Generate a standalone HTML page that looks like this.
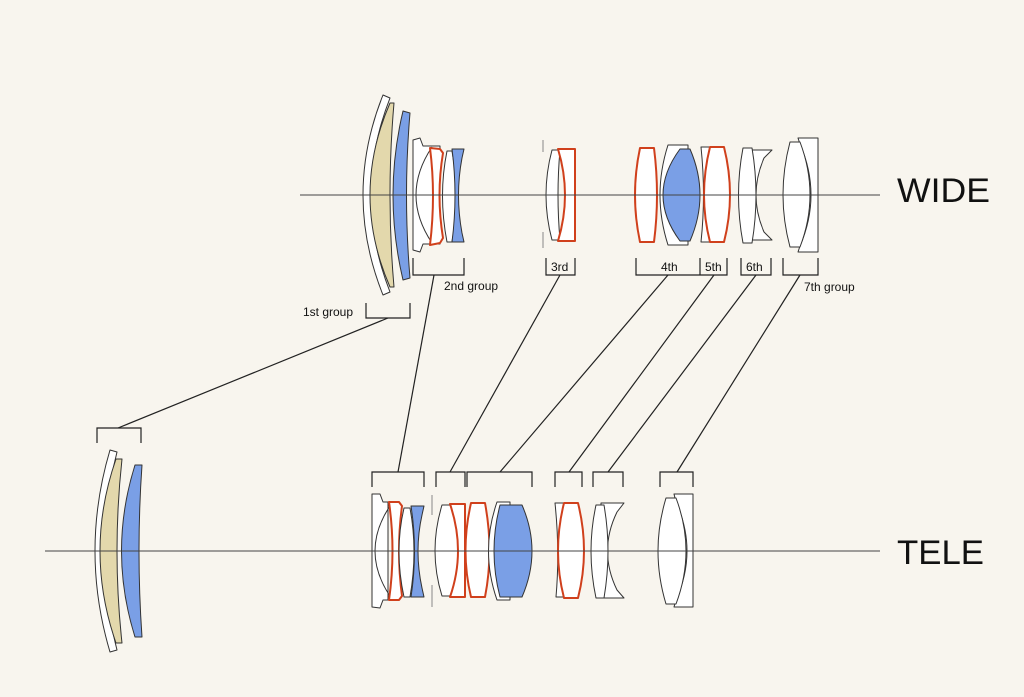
<!DOCTYPE html>
<html><head><meta charset="utf-8"><style>
html,body{margin:0;padding:0;background:#f8f5ee;}
svg{display:block}
text{font-family:"Liberation Sans",sans-serif;fill:#111}
</style></head><body>
<svg width="1024" height="697" viewBox="0 0 1024 697" xmlns="http://www.w3.org/2000/svg">
<rect width="1024" height="697" fill="#f8f5ee"/>
<g stroke="#333" stroke-width="1" fill="#fff" stroke-linejoin="round">
<!-- WIDE 1st -->
<path d="M383 95 Q343 195 383 295 L390 292 Q352 195 390 98 Z"/>
<path d="M390 103 Q350 195 390 287 L394 287 Q386 195 394 103 Z" fill="#e3d8ac"/>
<path d="M403 111 Q383 195 403 280 L410 278 Q403 195 410 113 Z" fill="#7a9fe6"/>
<!-- WIDE 2nd -->
<path d="M413 140 L420 138 L423 146 L440 146 L440 244 L423 244 L420 252 L413 250 Z"/>
<path d="M432 147 Q400 195 432 243" fill="none"/>
<path d="M430 148 L440 149 L443 153 Q436 195 443 238 L440 243 L430 245 Q436 195 430 148 Z" stroke="#d0401c" stroke-width="2"/>
<path d="M447 151 L452 151 Q460 195 452 242 L447 242 Q438 195 447 151 Z"/>
<path d="M452 149 L464 149 L462 158 Q455 195 462 233 L464 242 L452 242 Q458 195 452 149 Z" fill="#7a9fe6"/>
<!-- WIDE 3rd -->
<path d="M543 140 L543 152 M543 232 L543 248" fill="none" stroke="#888"/>
<path d="M552 150 L560 150 Q556 195 560 240 L552 240 Q540 195 552 150 Z"/>
<path d="M558 149 L575 149 L575 241 L558 241 Q572 195 558 149 Z" stroke="#d0401c" stroke-width="2"/>
<!-- WIDE 4th -->
<path d="M640 148 L654 148 Q660 195 654 242 L640 242 Q630 195 640 148 Z" stroke="#d0401c" stroke-width="2"/>
<path d="M668 145 L688 145 L688 150 Q660 195 688 240 L688 245 L668 245 Q652 195 668 145 Z"/>
<path d="M680 149 L690 149 Q710 195 690 241 L680 241 Q646 195 680 149 Z" fill="#7a9fe6"/>
<!-- WIDE 5th -->
<path d="M701 147 L710 147 Q704 195 710 242 L701 242 Q706 195 701 147 Z"/>
<path d="M710 147 L724 147 Q736 195 724 242 L710 242 Q698 195 710 147 Z" stroke="#d0401c" stroke-width="2"/>
<!-- WIDE 6th -->
<path d="M748 150 L772 150 L764 158 Q748 195 764 232 L772 240 L748 240 Z"/>
<path d="M743 148 L752 148 Q760 195 752 243 L743 243 Q734 195 743 148 Z"/>
<!-- WIDE 7th -->
<path d="M798 138 L818 138 L818 252 L798 252 L800 246 Q822 195 800 144 Z"/>
<path d="M790 142 L800 142 Q820 195 800 247 L790 247 Q776 195 790 142 Z"/>

<!-- TELE 1st -->
<path d="M110 450 Q80 551 110 652 L117 650 Q92 551 117 452 Z"/>
<path d="M116 459 Q84 551 116 643 L122 643 Q112 551 122 459 Z" fill="#e3d8ac"/>
<path d="M135 465 Q108 551 135 637 L142 637 Q136 551 142 465 Z" fill="#7a9fe6"/>
<!-- TELE 2nd -->
<path d="M372 494 L380 494 L383 502 L388 502 L388 600 L383 600 L380 608 L372 607 Z"/>
<path d="M392 503 Q358 551 392 599" fill="none"/>
<path d="M389 502 L399 502 L402 506 Q396 551 402 596 L399 600 L389 600 Q396 551 389 502 Z" stroke="#d0401c" stroke-width="2"/>
<path d="M404 508 L410 508 Q418 551 410 597 L404 597 Q394 551 404 508 Z"/>
<path d="M411 506 L424 506 L422 515 Q414 551 422 588 L424 597 L411 597 Q418 551 411 506 Z" fill="#7a9fe6"/>
<path d="M432 495 L432 515 M432 585 L432 607" fill="none" stroke="#888"/>
<!-- TELE 3rd -->
<path d="M442 505 L452 505 Q464 551 452 596 L442 596 Q428 551 442 505 Z"/>
<path d="M450 504 L465 504 L465 597 L450 597 Q466 551 450 504 Z" stroke="#d0401c" stroke-width="2"/>
<!-- TELE 4th -->
<path d="M471 503 L485 503 Q494 551 485 597 L471 597 Q460 551 471 503 Z" stroke="#d0401c" stroke-width="2"/>
<path d="M497 502 L510 502 L510 600 L497 600 Q480 551 497 502 Z"/>
<path d="M500 505 L522 505 Q542 551 522 597 L500 597 Q488 551 500 505 Z" fill="#7a9fe6"/>
<!-- TELE 5th -->
<path d="M555 503 L565 503 Q560 551 566 597 L556 597 Q560 551 555 503 Z"/>
<path d="M564 503 L578 503 Q590 551 578 598 L564 598 Q552 551 564 503 Z" stroke="#d0401c" stroke-width="2"/>
<!-- TELE 6th -->
<path d="M601 503 L624 503 L617 512 Q598 551 617 590 L624 598 L601 598 Z"/>
<path d="M596 505 L604 505 Q612 551 604 598 L596 598 Q586 551 596 505 Z"/>
<!-- TELE 7th -->
<path d="M674 494 L693 494 L693 607 L674 607 L676 600 Q698 551 676 502 Z"/>
<path d="M666 498 L676 498 Q696 551 676 604 L666 604 Q650 551 666 498 Z"/>
</g>

<g stroke="#222" stroke-width="1.2" fill="none">
<line x1="300" y1="195" x2="880" y2="195" stroke="#444" stroke-width="1"/>
<line x1="45" y1="551" x2="880" y2="551" stroke="#444" stroke-width="1"/>
<!-- wide brackets -->
<path d="M366 303 V318 H410 V303"/>
<path d="M413 258 V275 H464 V258"/>
<path d="M546 258 V275 H575 V258"/>
<path d="M636 258 V275 H727 V258 M700 258 V275"/>
<path d="M741 258 V275 H771 V258"/>
<path d="M783 258 V275 H818 V258"/>
<!-- tele brackets -->
<path d="M97 443 V428 H141 V443"/>
<path d="M372 487 V472 H424 V487"/>
<path d="M436 487 V472 H465 V487"/>
<path d="M467 487 V472 H532 V487"/>
<path d="M555 487 V472 H582 V487"/>
<path d="M593 487 V472 H623 V487"/>
<path d="M660 487 V472 H693 V487"/>
<!-- connectors -->
<line x1="388" y1="318" x2="118" y2="428"/>
<line x1="434" y1="275" x2="398" y2="472"/>
<line x1="560" y1="275" x2="450" y2="472"/>
<line x1="668" y1="275" x2="500" y2="472"/>
<line x1="714" y1="275" x2="569" y2="472"/>
<line x1="756" y1="275" x2="608" y2="472"/>
<line x1="800" y1="275" x2="677" y2="472"/>
</g>

<g font-size="12">
<text x="303" y="316">1st group</text>
<text x="444" y="290">2nd group</text>
<text x="551" y="271">3rd</text>
<text x="661" y="271">4th</text>
<text x="705" y="271">5th</text>
<text x="746" y="271">6th</text>
<text x="804" y="291">7th group</text>
</g>
<text x="897" y="202" font-size="34" textLength="93" lengthAdjust="spacingAndGlyphs">WIDE</text>
<text x="897" y="564" font-size="34" textLength="87" lengthAdjust="spacingAndGlyphs">TELE</text>
</svg>
</body></html>
